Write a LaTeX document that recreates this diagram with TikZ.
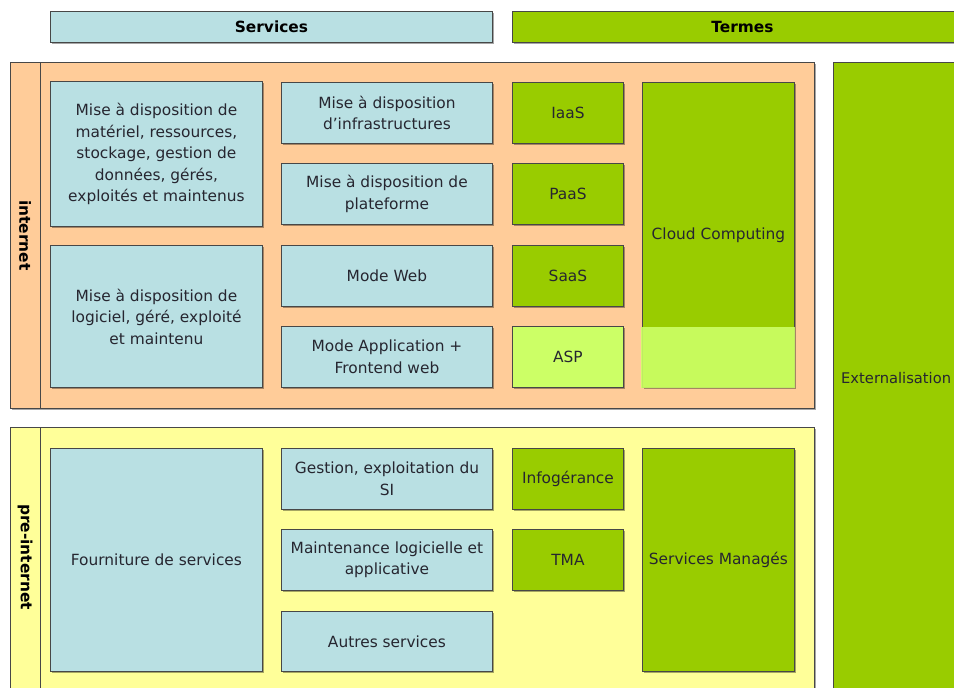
\documentclass[tikz,border=0pt]{standalone}
\usepackage{fontspec}
\setmainfont{DejaVu Sans}
\usetikzlibrary{shadows}

\definecolor{svcblue}{HTML}{B9E0E3}
\definecolor{peach}{HTML}{FFCC99}
\definecolor{paleyellow}{HTML}{FFFF99}
\definecolor{termgreen}{HTML}{99CC00}
\definecolor{lightgreen}{HTML}{CCFF66}
\definecolor{inkgray}{HTML}{262630}

\tikzset{
  wh/.style 2 args={minimum width=#1pt, minimum height=#2pt},
  panel/.style={draw=black!72, line width=0.9pt, anchor=north west,
    inner sep=0pt, align=center, text=inkgray,
    font=\fontsize{15.4}{21.5}\selectfont,
    drop shadow={shadow xshift=1.3pt, shadow yshift=-1.3pt,
      fill=black, opacity=0.35}},
  svc/.style={panel, fill=svcblue},
  term/.style={panel, fill=termgreen},
  band/.style={panel},
  heading/.style={font=\fontsize{15.4}{18}\bfseries\selectfont, text=black},
  sidelabel/.style={rotate=-90, inner sep=0pt, text=black,
    font=\fontsize{15.4}{18}\bfseries\selectfont},
  divider/.style={draw=black!72, line width=0.9pt},
}

\begin{document}
\begin{tikzpicture}[x=1pt, y=-1pt]
  \useasboundingbox (0,0) rectangle (954,688);
  \clip (0,0) rectangle (954,688);

  % column headings
  \node[svc, heading, wh={442}{31}] (hsvc) at (50,11) {Services};
  \node[term, heading, wh={460}{31}] (hterm) at (512,11) {Termes};

  % era bands
  \node[band, fill=peach, wh={804}{346}] (inet) at (10,62) {};
  \draw[divider] ([xshift=30pt]inet.north west) -- ([xshift=30pt]inet.south west);
  \node[sidelabel] (inetlbl) at ([xshift=15pt]inet.west) {internet};

  \node[band, fill=paleyellow, wh={804}{290}] (pre) at (10,427) {};
  \draw[divider] ([xshift=30pt]pre.north west) -- ([xshift=30pt]pre.south west);
  \node[sidelabel] (prelbl) at (25,557) {pre-internet};

  % outsourcing column
  \node[term, wh={150}{660}] (ext) at (833,62) {};
  \node[anchor=west, inner sep=0pt, text=inkgray,
        font=\fontsize{14.7}{18}\selectfont] (extlbl) at (841,378) {Externalisation};

  % internet era: services
  \node[svc, wh={212}{145}] (hw) at (50,81)
    {Mise à disposition de\\matériel, ressources,\\stockage, gestion de\\données, gérés,\\exploités et maintenus};
  \node[svc, wh={212}{142}] (sw) at (50,245)
    {Mise à disposition de\\logiciel, géré, exploité\\et maintenu};

  \node[svc, wh={211}{61}] (infra) at (281,82) {Mise à disposition\\d’infrastructures};
  \node[svc, wh={211}{61}] (plat) at (281,163) {Mise à disposition de\\plateforme};
  \node[svc, wh={211}{61}] (web) at (281,245) {Mode Web};
  \node[svc, wh={211}{61}] (app) at (281,326) {Mode Application +\\Frontend web};

  % internet era: terms
  \node[term, wh={111}{61}] (iaas) at (512,82) {IaaS};
  \node[term, wh={111}{61}] (paas) at (512,163) {PaaS};
  \node[term, wh={111}{61}] (saas) at (512,245) {SaaS};
  \node[panel, fill=lightgreen, wh={111}{61}] (asp) at (512,326) {ASP};

  \node[term, wh={152}{305}] (cloud) at (642,82) {};
  \fill[lightgreen, opacity=0.9] (641.4,326.5) rectangle (795.2,388);
  \node[text=inkgray, font=\fontsize{15.4}{18}\selectfont] (cloudlbl)
    at (cloud.center) {Cloud Computing};

  % pre-internet era
  \node[svc, wh={212}{223}] (supply) at (50,448) {Fourniture de services};

  \node[svc, wh={211}{61}] (gest) at (281,448) {Gestion, exploitation du\\SI};
  \node[svc, wh={211}{61}] (maint) at (281,529) {Maintenance logicielle et\\applicative};
  \node[svc, wh={211}{60}] (other) at (281,611) {Autres services};

  \node[term, wh={111}{61}] (infog) at (512,448) {Infogérance};
  \node[term, wh={111}{61}] (tma) at (512,529) {TMA};

  \node[term, wh={152}{223}] (managed) at (642,448) {Services Managés};
\end{tikzpicture}
\end{document}
